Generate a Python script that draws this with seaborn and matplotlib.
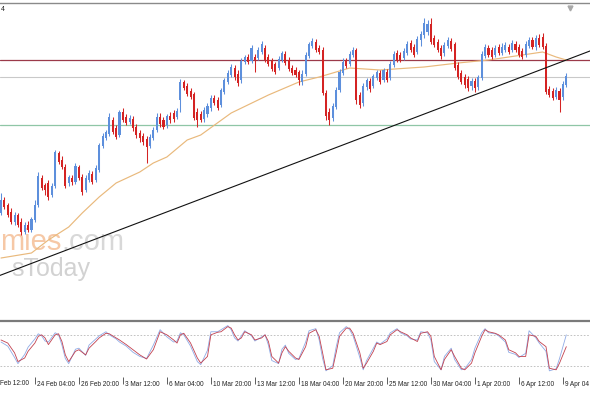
import numpy as np
import pandas as pd
import matplotlib
matplotlib.use("Agg")
import matplotlib.pyplot as plt
import matplotlib.transforms as mtransforms
import seaborn as sns

# ---------------- data (prices in points, 1 point = 0.0001) ----------------
open_pts = [
    12787,12800,12795,12788,12778,12785,12778,12768,12775,12770,
    12780,12795,12822,12815,12817,12805,12814,12847,12840,12833,
    12817,12822,12818,12833,12823,12810,12820,12826,12820,12830,
    12854,12862,12866,12880,12872,12865,12888,12883,12878,12881,
    12873,12867,12864,12861,12854,12862,12870,12883,12880,12875,
    12884,12887,12883,12900,12918,12914,12909,12906,12888,12886,
    12881,12886,12892,12902,12900,12895,12908,12918,12925,12932,
    12926,12920,12938,12943,12939,12943,12942,12948,12952,12943,
    12939,12936,12932,12940,12946,12940,12932,12930,12928,12918,
    12926,12944,12954,12958,12952,12950,12907,12888,12882,12893,
    12910,12927,12939,12936,12945,12950,12905,12897,12913,12919,
    12914,12922,12927,12920,12928,12922,12935,12947,12945,12942,
    12947,12957,12953,12948,12960,12965,12968,12976,12962,12958,
    12952,12947,12954,12959,12956,12935,12927,12923,12921,12914,
    12919,12913,12922,12944,12952,12950,12945,12953,12947,12950,
    12953,12950,12956,12953,12949,12945,12954,12960,12953,12962,
    12963,12954,12911,12909,12903,12909,12903,12915]
high_pts = [
    12807,12803,12797,12792,12788,12787,12782,12778,12779,12783,
    12800,12828,12825,12817,12820,12817,12850,12849,12844,12836,
    12825,12825,12837,12835,12826,12825,12830,12829,12835,12857,
    12867,12870,12887,12883,12875,12890,12892,12886,12885,12884,
    12876,12870,12867,12864,12866,12873,12887,12887,12883,12886,
    12888,12890,12892,12921,12920,12917,12912,12908,12892,12889,
    12893,12897,12905,12905,12903,12912,12922,12930,12936,12935,
    12930,12942,12945,12946,12955,12946,12953,12959,12955,12946,
    12942,12938,12944,12949,12949,12943,12935,12933,12930,12930,
    12948,12958,12962,12961,12955,12953,12910,12892,12897,12913,
    12931,12942,12942,12949,12953,12952,12908,12917,12922,12922,
    12926,12930,12930,12932,12931,12939,12949,12950,12948,12952,
    12959,12960,12956,12964,12969,12982,12980,12982,12965,12961,
    12955,12958,12963,12962,12958,12938,12930,12926,12924,12922,
    12922,12925,12949,12956,12955,12953,12955,12956,12957,12958,
    12956,12960,12959,12956,12952,12959,12963,12963,12965,12966,
    12967,12957,12914,12912,12913,12912,12919,12927]
low_pts = [
    12785,12791,12783,12776,12775,12773,12765,12766,12768,12768,
    12778,12793,12810,12805,12800,12803,12812,12836,12831,12812,
    12814,12815,12816,12820,12805,12808,12818,12816,12818,12828,
    12852,12860,12864,12866,12861,12863,12878,12875,12876,12869,
    12862,12858,12855,12837,12852,12860,12868,12873,12871,12872,
    12877,12878,12881,12888,12910,12904,12901,12880,12873,12878,
    12878,12883,12889,12895,12890,12893,12906,12916,12923,12920,
    12914,12917,12936,12936,12937,12928,12940,12946,12938,12934,
    12929,12926,12930,12938,12935,12929,12925,12923,12915,12915,
    12924,12942,12952,12948,12946,12905,12880,12875,12879,12891,
    12908,12925,12932,12934,12943,12896,12892,12894,12910,12908,
    12912,12920,12916,12918,12918,12920,12933,12938,12938,12940,
    12945,12948,12943,12946,12954,12962,12965,12956,12953,12948,
    12941,12944,12952,12949,12930,12921,12916,12912,12909,12910,
    12908,12910,12920,12942,12943,12941,12943,12945,12945,12948,
    12946,12948,12948,12943,12941,12943,12952,12951,12950,12953,
    12951,12906,12903,12900,12901,12888,12900,12913]
close_pts = [
    12800,12793,12785,12778,12785,12775,12768,12775,12770,12781,
    12795,12824,12812,12810,12803,12814,12848,12838,12833,12814,
    12823,12818,12834,12822,12808,12822,12827,12818,12832,12855,
    12864,12868,12883,12868,12863,12888,12880,12877,12882,12872,
    12865,12862,12858,12853,12863,12870,12883,12876,12873,12884,
    12880,12881,12889,12918,12912,12906,12903,12882,12880,12880,
    12890,12894,12902,12897,12892,12910,12920,12927,12933,12923,
    12917,12939,12943,12938,12952,12940,12950,12956,12940,12936,
    12931,12928,12941,12947,12937,12931,12927,12925,12920,12926,
    12945,12956,12959,12950,12948,12907,12884,12880,12894,12910,
    12928,12938,12934,12946,12950,12900,12895,12914,12920,12911,
    12924,12928,12918,12930,12920,12936,12946,12940,12940,12949,
    12956,12950,12945,12961,12966,12977,12976,12958,12955,12950,
    12944,12955,12960,12951,12932,12923,12918,12915,12912,12919,
    12912,12923,12946,12953,12945,12943,12952,12947,12953,12955,
    12948,12957,12950,12945,12943,12956,12960,12953,12962,12955,
    12953,12908,12905,12902,12910,12900,12916,12924]

ma_bar = [0, 9, 14, 20, 24, 29, 34, 41, 45, 49, 55, 59, 68, 79, 88, 94,
          103, 112, 125, 135, 144, 154, 160, 164, 167]
ma_pts = [12742, 12747, 12760, 12773, 12787, 12803, 12817, 12828, 12837,
          12843, 12860, 12865, 12887, 12905, 12918, 12923, 12932, 12930,
          12933, 12937, 12940, 12945, 12948, 12943, 12940]

resistance_pts = 12940
pivot_pts = 12923
support_pts = 12875
trend_bar = [0, 167]
trend_pts = [12725, 12940]

stoch_bar = [0,2,4,5,7,8,10,11,12,13,14,16,17,18,19,20,22,23,25,26,28,29,31,32,
             34,35,37,39,41,43,45,47,49,51,52,53,54,56,58,59,61,62,64,65,67,68,
             69,70,71,72,74,75,77,78,79,80,82,83,84,85,87,88,90,91,93,94,95,96,
             98,99,100,102,103,104,106,107,108,110,111,112,114,115,117,118,120,
             121,123,124,126,127,128,130,131,133,134,136,137,139,140,142,143,
             144,146,147,149,150,152,153,155,156,158,159,161,162,164,165,167]
stoch_signal = [70,64,45,28,35,48,64,77,80,74, 61,80,82,67,41,28,48,51,41,54,
                67,74,83,82,74,70,61,51,41,33, 51,86,80,70,64,80,83,64,35,25,
                38,80,85,86,96,93,80,70,74,86, 80,70,74,80,67,38,25,45,57,48,
                35,32,57,83,90,77,45,12,15,45, 77,93,93,83,45,15,25,48,64,61,
                67,80,90,86,80,74,67,83,86,77, 38,12,32,51,38,15,12,25,45,77,
                90,86,83,80,70,51,45,38,38,80, 77,67,57,15,12,25,57]
stoch_main = [66,58,36,24,42,56,72,82,78,68, 66,84,80,60,34,24,52,54,40,60,
              72,78,86,80,72,66,58,46,38,34, 60,90,76,66,68,84,80,58,28,22,
              50,86,86,90,98,90,74,68,78,88, 78,68,76,80,60,30,24,52,60,44,
              32,34,66,88,92,70,34,10,20,56, 84,96,90,78,36,12,30,54,66,62,
              72,84,92,84,78,72,70,86,84,70, 28,12,38,54,32,12,14,32,54,84,
              92,84,82,78,66,46,42,36,44,88, 74,64,48,10,14,34,80]
stoch_levels = [20, 80]

tick_bars = [10, 23, 36, 49, 62, 75, 88, 101, 114, 127, 140, 153, 166]
tick_labels = ["24 Feb 04:00", "26 Feb 20:00", "3 Mar 12:00", "6 Mar 04:00",
               "10 Mar 20:00", "13 Mar 12:00", "18 Mar 04:00", "20 Mar 20:00",
               "25 Mar 12:00", "30 Mar 04:00", "1 Apr 20:00", "6 Apr 12:00",
               "9 Apr 04"]
first_label_visible = "Feb 12:00"

# ---------------- style ----------------
sns.set_theme(style="white")
plt.rcParams['font.family'] = ['Liberation Sans', 'DejaVu Sans']

BLUE = '#5d8fdc'
RED = '#d42323'

W, H = 590, 393
fig = plt.figure(figsize=(5.9, 3.93), dpi=100)
fig.patch.set_facecolor('white')


def fy(py):
    return 1 - py / H


ax = fig.add_axes([0, fy(321), 1, fy(3) - fy(321)])
ax2 = fig.add_axes([0, fy(377), 1, fy(323) - fy(377)])
for a in (ax, ax2):
    a.set_facecolor('none')
    a.set_xlim(-0.3, 174.0)

df = pd.DataFrame({
    'bar': np.arange(len(open_pts)),
    'open': np.array(open_pts) / 1e4,
    'high': np.array(high_pts) / 1e4,
    'low': np.array(low_pts) / 1e4,
    'close': np.array(close_pts) / 1e4,
})
up = df['close'] >= df['open']
colors = np.where(up, BLUE, RED)

# horizontal levels and trendline
ax.axhline(resistance_pts / 1e4, color='#9b3a4a', lw=0.9, zorder=1)
ax.axhline(pivot_pts / 1e4, color='#c9c9c9', lw=0.8, zorder=1)
ax.axhline(support_pts / 1e4, color='#8fc6a6', lw=0.9, zorder=1)
ax.axline((trend_bar[0], trend_pts[0] / 1e4), (trend_bar[1], trend_pts[1] / 1e4),
          color='#111111', lw=0.8, zorder=4)

# moving average
sns.lineplot(x=ma_bar, y=np.array(ma_pts) / 1e4, ax=ax, color='#e9b97c',
             lw=0.85, zorder=1.5, sort=False)

# candles
ax.vlines(df['bar'], df['low'], df['high'], colors=colors, lw=0.75, zorder=2)
body = (df['close'] - df['open']).abs().clip(lower=0.00008)
ax.bar(df['bar'], body, bottom=np.minimum(df['open'], df['close']),
       width=0.62, color=colors, linewidth=0, zorder=3)

ax.set_ylim(1.2679, 1.2997)
ax.set_xlabel('')
ax.set_ylabel('')
ax.set_xticks([])
ax.set_yticks([])
for s in ('left', 'right'):
    ax.spines[s].set_visible(False)
ax.spines['top'].set_color('#8a8a8a')
ax.spines['top'].set_linewidth(1.0)
ax.spines['bottom'].set_color('#7a7a7a')
ax.spines['bottom'].set_linewidth(1.6)

# chart-shift marker
ax.plot([168], [0.985], marker='v', color='#a8a8a8', markersize=3.5,
        transform=mtransforms.blended_transform_factory(ax.transData, ax.transAxes),
        clip_on=False, zorder=5)

# stochastic panel
for lv in stoch_levels:
    ax2.axhline(lv, color='#b8b8b8', lw=0.6, ls=(0, (2, 2)), zorder=1)
sns.lineplot(x=stoch_bar, y=stoch_main, ax=ax2, color='#8fabe6', lw=0.6,
             zorder=2, sort=False)
sns.lineplot(x=stoch_bar, y=stoch_signal, ax=ax2, color='#c2414f', lw=0.6,
             zorder=3, sort=False)
ax2.set_ylim(-2, 103)
ax2.set_yticks([])
ax2.set_xlabel('')
ax2.set_ylabel('')
for s in ('left', 'right', 'top', 'bottom'):
    ax2.spines[s].set_visible(False)

ax2.set_xticks(tick_bars)
ax2.set_xticklabels(tick_labels)
ax2.tick_params(axis='x', direction='out', length=4.8, width=0.6,
                color='#444444', pad=-2.2, labelsize=4.7,
                labelcolor='#222222', bottom=True)
shift = mtransforms.ScaledTranslation(2 / 100, 0, fig.dpi_scale_trans)
for lbl in ax2.get_xticklabels():
    lbl.set_ha('left')
    lbl.set_transform(lbl.get_transform() + shift)

# visible part of the first (off-screen) label
fig.text(0.5 / W, fy(379.8), first_label_visible, fontsize=4.7, color='#222222',
         ha='left', va='top')

# watermark
fig.text(0.5 / W, fy(250), 'mies', ha='left', va='baseline', fontsize=21,
         color='#f6c8a6', zorder=-1)
fig.text(124 / W, fy(250), '.com', ha='right', va='baseline', fontsize=21,
         color='#d8d8d8', zorder=-1)
fig.text(90 / W, fy(276), 'sToday', ha='right', va='baseline', fontsize=18,
         color='#d2d2d2', zorder=-1)

# title fragment at top-left
fig.text(0.5 / W, fy(9.5), '4', ha='left', va='center', fontsize=5,
         color='#222222')

fig.savefig('out.png', dpi=100, facecolor='white')
